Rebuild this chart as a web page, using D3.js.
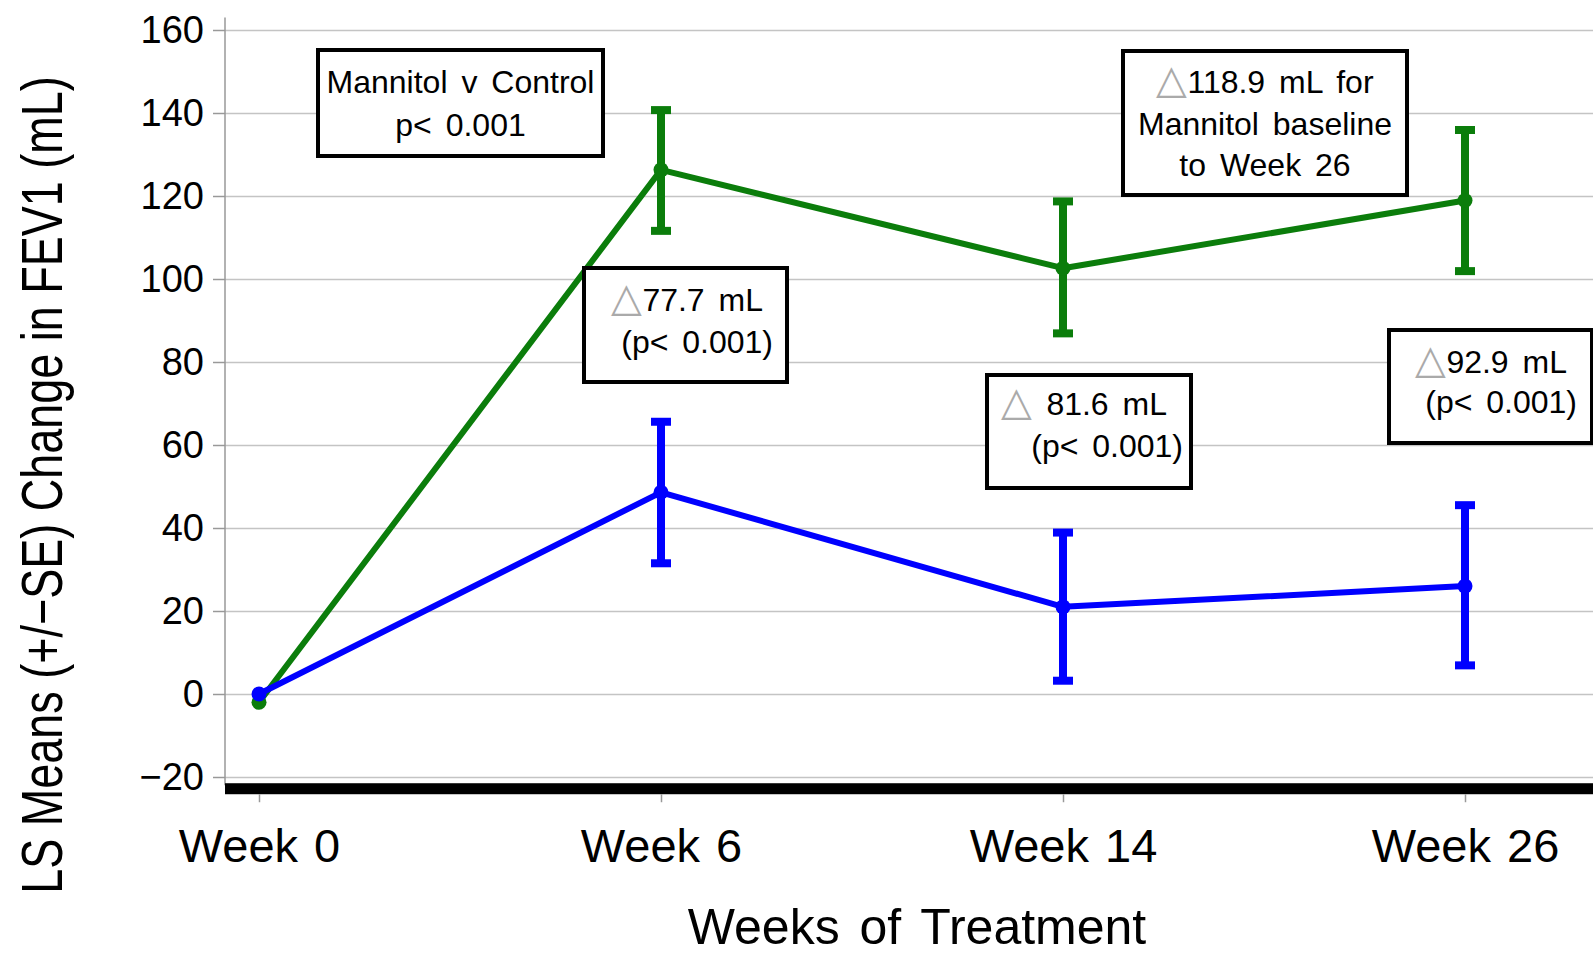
<!DOCTYPE html>
<html>
<head>
<meta charset="utf-8">
<script src="https://cdn.jsdelivr.net/npm/d3@7"></script>
<style>
  body { margin: 0; background: #fff; }
  text { font-family: "Liberation Sans", Arial, Helvetica, sans-serif; }
</style>
</head>
<body>
<div id="chart-area"></div>
<script>
// datos
var weeks = ["Week 0", "Week 6", "Week 14", "Week 26"];

var mannitol   = [-2, 126.3, 102.6, 118.9];
var mannitolHi = [null, 140.7, 118.7, 135.9];
var mannitolLo = [null, 111.6, 86.9, 101.9];

var control   = [0, 48.6, 21.0, 26.0];
var controlHi = [null, 65.6, 38.9, 45.5];
var controlLo = [null, 31.5, 3.2, 6.9];

var yTicks = [-20, 0, 20, 40, 60, 80, 100, 120, 140, 160];

var notes = [
    ["Mannitol v Control", "p< 0.001"],
    ["\u25B377.7 mL", "(p< 0.001)"],
    ["\u25B3118.9 mL for", "Mannitol baseline", "to Week 26"],
    ["\u25B3 81.6 mL", "(p< 0.001)"],
    ["\u25B392.9 mL", "(p< 0.001)"]
];

// posiciones de las cajas (en pixeles)
var noteBoxes = [
    { x: 318, y: 50, w: 285, h: 106, align: "middle", ends: [0, 0], rows: [43, 86] },
    { x: 584, y: 268, w: 203, h: 114, align: "end", ends: [24, 14], rows: [43, 85] },
    { x: 1123, y: 51, w: 284, h: 144, align: "middle", ends: [0, 0, 0], rows: [42, 84, 125] },
    { x: 987, y: 375, w: 204, h: 113, align: "end", ends: [24, 8], rows: [40, 82] },
    { x: 1389, y: 330, w: 203, h: 113, align: "end", ends: [25, 15], rows: [43, 83] }
];

var W = 1593, H = 956;
var left = 225, right = W;

var svg = d3.select("#chart-area")
    .append("svg")
    .attr("width", W)
    .attr("height", H);

var x = d3.scalePoint()
    .domain(weeks)
    .range([259, 1465]);

var y = d3.scaleLinear()
    .domain([-20, 160])
    .range([777, 30]);

var green = "#0b7d0b", blue = "#0000ff";

// lineas de cuadricula
svg.append("g")
    .attr("transform", "translate(" + left + ",0)")
    .call(d3.axisLeft(y).tickValues(yTicks).tickSizeInner(-(right - left)).tickSizeOuter(0).tickFormat(""))
    .call(function(g) { g.select(".domain").remove(); })
    .selectAll("line")
    .attr("stroke", "#c4c4c4")
    .attr("stroke-width", 1.5);

// eje Y
var yAxis = svg.append("g")
    .attr("transform", "translate(" + left + ",0)")
    .call(d3.axisLeft(y).tickValues(yTicks).tickSizeInner(12).tickSizeOuter(0).tickPadding(9));
yAxis.select(".domain").remove();
yAxis.selectAll("line").attr("stroke", "#999").attr("stroke-width", 1.5);
yAxis.selectAll("text")
    .style("font-size", "38px")
    .attr("fill", "#000");

svg.append("line")
    .attr("x1", left).attr("x2", left)
    .attr("y1", y(163)).attr("y2", y(-22))
    .attr("stroke", "#999")
    .attr("stroke-width", 1.5);

// barra inferior gruesa
svg.append("rect")
    .attr("x", left)
    .attr("y", y(-21.5))
    .attr("width", right - left)
    .attr("height", 11)
    .attr("fill", "#000");

// eje X
var xAxis = svg.append("g")
    .attr("transform", "translate(0," + (y(-21.5) + 11) + ")")
    .call(d3.axisBottom(x).tickSizeInner(8).tickSizeOuter(0).tickPadding(26));
xAxis.select(".domain").remove();
xAxis.selectAll("line").attr("stroke", "#999").attr("stroke-width", 1.5);
xAxis.selectAll("text")
    .style("font-size", "47px")
    .style("word-spacing", "3px")
    .attr("fill", "#000");

// titulos de ejes
svg.append("text")
    .attr("x", 917)
    .attr("y", 944)
    .attr("text-anchor", "middle")
    .style("font-size", "50px")
    .style("word-spacing", "6px")
    .text("Weeks of Treatment");

// etiqueta Y: letra estrecha y alta, como en el original
svg.append("text")
    .attr("transform", "translate(62,485) rotate(-90) scale(1,1.27)")
    .attr("text-anchor", "middle")
    .style("font-size", "45px")
    .text("LS Means (+/\u2212SE) Change in FEV1 (mL)");

// series
function drawSeries(vals, hi, lo, color) {
    var pts = weeks.map(function(w, i) {
        return { week: w, v: vals[i], hi: hi[i], lo: lo[i] };
    });
    var g = svg.append("g");

    var bars = pts.filter(function(d) { return d.hi !== null; });
    g.selectAll(".err")
        .data(bars)
        .enter().append("line")
        .attr("x1", function(d) { return x(d.week); })
        .attr("x2", function(d) { return x(d.week); })
        .attr("y1", function(d) { return y(d.hi); })
        .attr("y2", function(d) { return y(d.lo); })
        .attr("stroke", color)
        .attr("stroke-width", 8);

    ["hi", "lo"].forEach(function(k) {
        g.selectAll(".cap-" + k)
            .data(bars)
            .enter().append("line")
            .attr("x1", function(d) { return x(d.week) - 10; })
            .attr("x2", function(d) { return x(d.week) + 10; })
            .attr("y1", function(d) { return y(d[k]); })
            .attr("y2", function(d) { return y(d[k]); })
            .attr("stroke", color)
            .attr("stroke-width", 8);
    });

    g.append("path")
        .datum(pts)
        .attr("fill", "none")
        .attr("stroke", color)
        .attr("stroke-width", 6)
        .attr("stroke-linejoin", "round")
        .attr("d", d3.line()
            .x(function(d) { return x(d.week); })
            .y(function(d) { return y(d.v); }));

    g.selectAll("circle")
        .data(pts)
        .enter().append("circle")
        .attr("cx", function(d) { return x(d.week); })
        .attr("cy", function(d) { return y(d.v); })
        .attr("r", 7.5)
        .attr("fill", color);
}

drawSeries(mannitol, mannitolHi, mannitolLo, green);
drawSeries(control, controlHi, controlLo, blue);

// cajas de anotaciones
notes.forEach(function(lines, i) {
    var b = noteBoxes[i];
    var g = svg.append("g").attr("transform", "translate(" + b.x + "," + b.y + ")");
    g.append("rect")
        .attr("width", b.w)
        .attr("height", b.h)
        .attr("fill", "#fff")
        .attr("stroke", "#000")
        .attr("stroke-width", 4);

    lines.forEach(function(s, j) {
        var t = g.append("text")
            .attr("x", b.align === "middle" ? b.w / 2 : b.w - b.ends[j])
            .attr("y", b.rows[j])
            .attr("text-anchor", b.align)
            .style("font-size", "32px")
            .style("word-spacing", "5px");
        if (s.charAt(0) === "\u25B3") {
            t.append("tspan")
                .attr("fill", "#aaa")
                .style("font-size", "40px")
                .text("\u25B3");
            t.append("tspan").text(s.slice(1));
        } else {
            t.text(s);
        }
    });
});
</script>
</body>
</html>
